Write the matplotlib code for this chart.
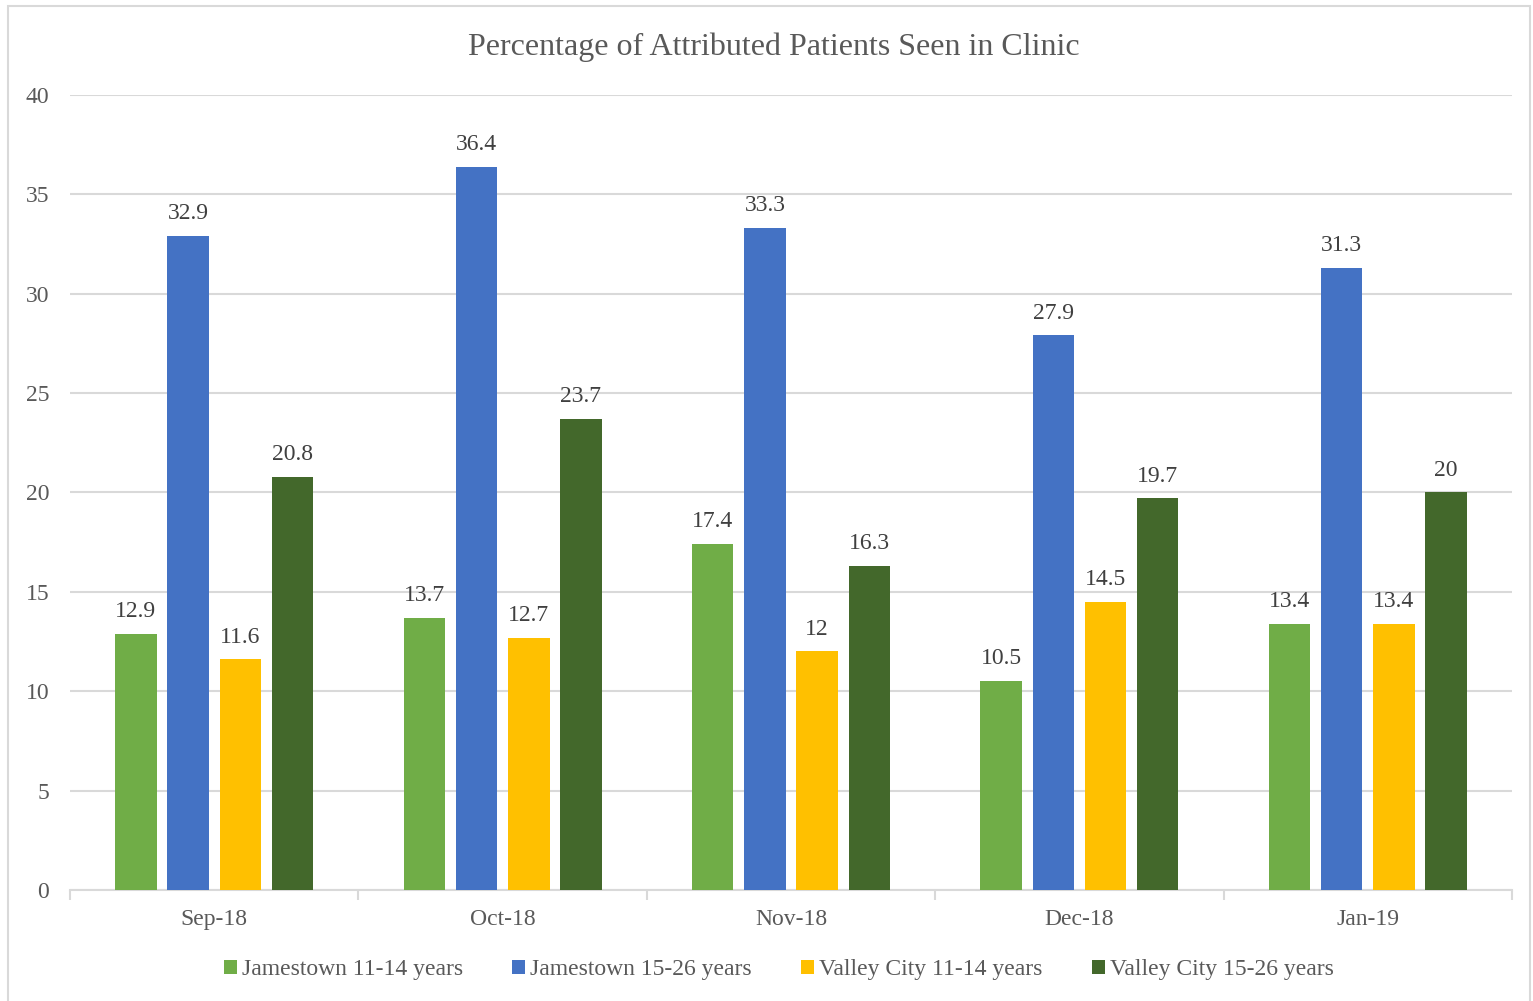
import matplotlib.pyplot as plt
from matplotlib.patches import Rectangle
import numpy as np

months = ["Sep-18", "Oct-18", "Nov-18", "Dec-18", "Jan-19"]
series_names = ["Jamestown 11-14 years", "Jamestown 15-26 years",
                "Valley City 11-14 years", "Valley City 15-26 years"]
jamestown_11_14 = [12.9, 13.7, 17.4, 10.5, 13.4]
jamestown_15_26 = [32.9, 36.4, 33.3, 27.9, 31.3]
valley_11_14 = [11.6, 12.7, 12, 14.5, 13.4]
valley_15_26 = [20.8, 23.7, 16.3, 19.7, 20]
colors = ["#70ad47", "#4472c4", "#ffc000", "#43682b"]

plt.rcParams['font.family'] = ['Liberation Serif', 'DejaVu Serif']
text_grey = "#595959"

fig = plt.figure(figsize=(15.33, 10.01), dpi=100)
ax = fig.add_axes([0.0457, 0.1109, 0.9406, 0.7942])

# chart area border
fig.patches.append(Rectangle((8 / 1533, -0.01), 1522 / 1533, 1 - 6 / 1001 + 0.01,
                             transform=fig.transFigure, fill=False,
                             edgecolor="#d9d9d9", linewidth=1.5))

x = np.arange(len(months))
step = 0.181
width = 0.144
all_series = [jamestown_11_14, jamestown_15_26, valley_11_14, valley_15_26]
for i, (vals, name, c) in enumerate(zip(all_series, series_names, colors)):
    pos = x + (i - 1.5) * step
    ax.bar(pos, vals, width=width, color=c, label=name, zorder=3)
    for p, v in zip(pos, vals):
        ax.text(p, v + 0.6, f"{v:g}", ha="center", va="bottom",
                fontsize=17, color="#404040")

ax.set_xlim(-0.5, len(months) - 0.5)
ax.set_ylim(0, 40)
ax.set_yticks(range(0, 41, 5))
ax.set_xticks(x)
ax.set_xticklabels(months)
ax.tick_params(axis="y", length=0, labelsize=17, labelcolor=text_grey, pad=15)
ax.tick_params(axis="x", length=0, labelsize=17, labelcolor=text_grey, pad=14)

# category boundary ticks
ax.set_xticks(np.arange(-0.5, len(months)), minor=True)
ax.tick_params(axis="x", which="minor", length=7, color="#d9d9d9", width=1.5)

ax.grid(axis="y", color="#d9d9d9", linewidth=1.5, zorder=0)
for s in ["top", "right", "left"]:
    ax.spines[s].set_visible(False)
ax.spines["bottom"].set_color("#d9d9d9")
ax.spines["bottom"].set_linewidth(1.5)

fig.text(0.505, 0.953, "Percentage of Attributed Patients Seen in Clinic",
         ha="center", va="center", fontsize=23, color=text_grey)

leg = fig.legend(loc="center", bbox_to_anchor=(0.508, 0.031), ncol=4, frameon=False,
                 fontsize=17, handlelength=0.55, handleheight=0.55, handletextpad=0.2,
                 columnspacing=2.1)
for t in leg.get_texts():
    t.set_color(text_grey)

fig.savefig("out.png", dpi=100)
